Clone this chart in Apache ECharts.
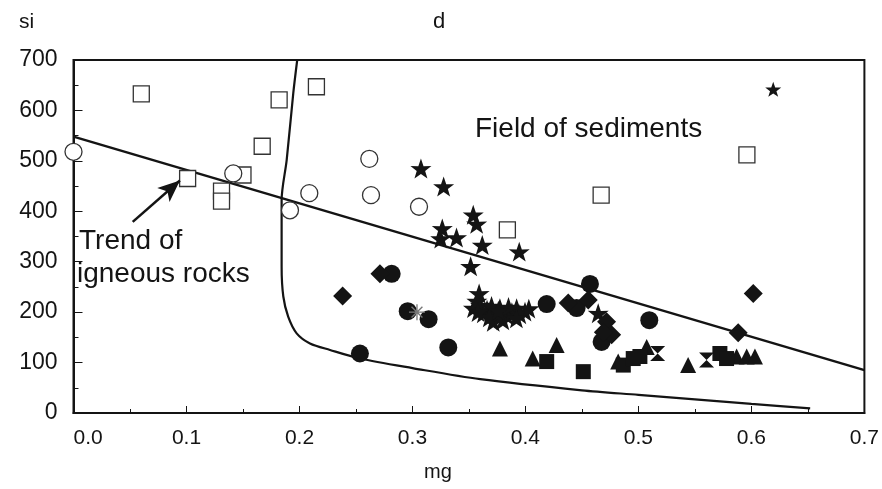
<!DOCTYPE html>
<html><head><meta charset="utf-8">
<script src="https://cdn.jsdelivr.net/npm/echarts@6/dist/echarts.min.js"></script>
<style>html,body{margin:0;padding:0;background:#fff}#c{width:882px;height:489px}</style>
</head><body><div id="c"></div>
<script>
// ---- data (mg, si) ----
const xTicks = [0, 0.1, 0.2, 0.3, 0.4, 0.5, 0.6, 0.7];
const yTicks = [0, 100, 200, 300, 400, 500, 600, 700];
const trendLine = [[0, 548], [0.7, 85]];
const fieldCurve = [[0.198,700],[0.1945,634],[0.1887,502],[0.1842,422],[0.1842,383],[0.1842,290],[0.1857,231],[0.190,191],[0.1975,158],[0.2093,138],[0.227,125],[0.2535,108],[0.30,89],[0.36,67],[0.45,45],[0.50,36],[0.55,27],[0.60,18],[0.652,9]];
const arrowFrom = [0.0524, 379];
const arrowTo = [0.0942, 461];
const openSquares = [[0.060,633],[0.182,621],[0.167,529],[0.101,465],[0.150,472],[0.215,647],[0.131,440],[0.131,420],[0.384,363],[0.467,432],[0.596,512]];
const openCircles = [[0.0,518],[0.1414,475],[0.1916,402],[0.2087,436],[0.2618,504],[0.2633,432],[0.3058,409]];
const stars = [[0.3075,485],[0.3276,449],[0.3538,393],[0.3568,375],[0.3264,366],[0.325,346],[0.339,348],[0.3618,333],[0.3945,320],[0.3515,291],[0.359,237],[0.4644,198],
  [0.354,208],[0.3627,198],[0.3715,181],[0.3774,208],[0.3834,194],[0.3922,208],[0.3996,201],[0.360,214],[0.380,184],[0.366,205],[0.388,200],
  [0.357,222],[0.370,212],[0.375,196],[0.385,210],[0.395,196],[0.368,190],[0.358,200],[0.403,207],[0.392,188],[0.376,203]];
const smallStars = [[0.6193,642]];
const filledCircles = [[0.2816,276],[0.2958,202],[0.3143,186],[0.3317,130],[0.2535,118],[0.4188,216],[0.4571,256],[0.5096,184],[0.4453,208],[0.4674,141]];
const diamonds = [[0.2382,232],[0.2712,276],[0.6016,237],[0.5883,159],[0.4379,218],[0.4556,224],[0.4718,181],[0.4763,155],[0.469,160]];
const triangles = [[0.3774,128],[0.4064,108],[0.4276,135],[0.5073,131],[0.4821,102],[0.544,95],[0.5869,112],[0.5958,112],[0.6031,112]];
const filledSquares = [[0.4188,102],[0.4512,82],[0.4866,95],[0.4954,108],[0.5013,112],[0.5721,118],[0.578,108]];
const hourglasses = [[0.517,118],[0.5603,105]];
const asterisks = [[0.304,200]];

const FONT = 'Liberation Sans, Arial, sans-serif';
const INK = '#141414';
const STAR = 'path://M50,0 L61.8,35.1 L97.6,34.5 L69.1,56.7 L79.4,90.5 L50,70 L20.6,90.5 L30.9,56.7 L2.4,34.5 L38.2,35.1 Z';
const HOUR = 'path://M0,0 L10,0 L5,5 L10,10 L0,10 L5,5 Z';
const AST = 'path://M4.6,0h0.8v10h-0.8z M0,4.6h10v0.8h-10z M1.3,1.9l0.6-0.6l6.8,6.8l-0.6,0.6z M8.1,1.3l0.6,0.6l-6.8,6.8l-0.6-0.6z';

function sc(data, symbol, size, style, z) {
  return {type:'scatter', data, symbol, symbolSize:size, symbolKeepAspect:true,
    itemStyle:Object.assign({opacity:1}, style), z:z||3, silent:true};
}

const chart = echarts.init(document.getElementById('c'), null, {renderer:'canvas'});
chart.setOption({
  animation:false,
  backgroundColor:'#fff',
  grid:{left:73.5, right:17.5, top:60, bottom:76, show:true, borderColor:INK, borderWidth:2, backgroundColor:'transparent'},
  xAxis:{type:'value', min:xTicks[0], max:xTicks[xTicks.length-1], interval:0.1,
    axisLine:{show:true, lineStyle:{color:INK, width:2}},
    axisTick:{show:true, inside:true, length:7, lineStyle:{color:INK, width:1}},
    minorTick:{show:true, splitNumber:2, length:4, lineStyle:{color:INK, width:1}},
    splitLine:{show:false},
    axisLabel:{color:INK, fontFamily:FONT, fontSize:21, margin:15, formatter:v=>v.toFixed(1), alignMinLabel:'left'}
  },
  yAxis:{type:'value', min:yTicks[0], max:yTicks[yTicks.length-1], interval:100,
    axisLine:{show:true, lineStyle:{color:INK, width:2}},
    axisTick:{show:true, inside:true, length:9, lineStyle:{color:INK, width:1}},
    minorTick:{show:true, splitNumber:2, length:5, lineStyle:{color:INK, width:1}},
    splitLine:{show:false},
    axisLabel:{color:INK, fontFamily:FONT, fontSize:23, margin:16}
  },
  graphic:[
    {type:'text', left:19, top:12, style:{text:'si', font:'21px '+FONT, fill:INK}},
    {type:'text', left:433, top:11, style:{text:'d', font:'22px '+FONT, fill:INK}},
    {type:'text', left:424, top:462, style:{text:'mg', font:'20px '+FONT, fill:INK}},
    {type:'text', left:475, top:115, style:{text:'Field of sediments', font:'28px '+FONT, fill:INK}},
    {type:'text', left:79, top:227, style:{text:'Trend of', font:'28px '+FONT, fill:INK}},
    {type:'text', left:77, top:260, style:{text:'igneous rocks', font:'28px '+FONT, fill:INK}}
  ],
  series:[
    {type:'line', data:trendLine, symbol:'none', lineStyle:{color:INK, width:2.5}, z:2, silent:true,
      markLine:{silent:true, symbol:['none','arrow'], symbolSize:[14,22], label:{show:false},
        lineStyle:{color:INK, width:2.5, type:'solid'},
        data:[[{coord:arrowFrom},{coord:arrowTo}]]}},
    {type:'line', data:fieldCurve, symbol:'none', smooth:0.3, lineStyle:{color:INK, width:2.2}, z:2, silent:true},
    sc(openSquares,'rect',16,{color:'#fff', borderColor:'#333', borderWidth:1.3},4),
    sc(openCircles,'circle',17,{color:'#fff', borderColor:'#333', borderWidth:1.3},4),
    sc(stars,STAR,21,{color:INK},3),
    sc(smallStars,STAR,16,{color:INK},3),
    sc(filledCircles,'circle',18,{color:INK},3),
    sc(diamonds,'diamond',19,{color:INK},3),
    sc(triangles,'triangle',16,{color:INK},3),
    sc(filledSquares,'rect',15,{color:INK},3),
    sc(hourglasses,HOUR,15,{color:INK},3),
    sc(asterisks,AST,16,{color:'#777'},5)
  ]
});
</script></body></html>
